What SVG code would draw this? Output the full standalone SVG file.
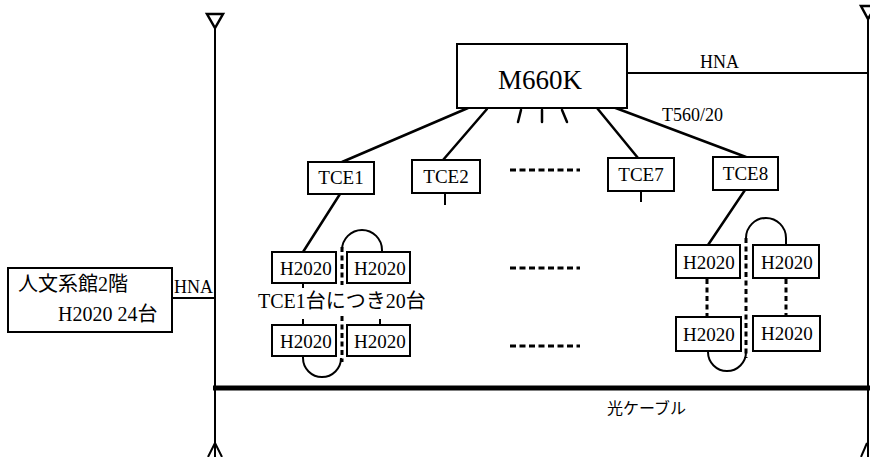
<svg xmlns="http://www.w3.org/2000/svg" width="870" height="457" viewBox="0 0 870 457">
<style>
text{font-family:"Liberation Serif","DejaVu Serif",serif;fill:#000}
text.jp{font-family:"Liberation Serif","Noto Sans CJK JP",serif}
.box{fill:#fff;stroke:#000;stroke-width:2}
.ln{fill:none;stroke:#000;stroke-width:2.5;stroke-linecap:round}
.thin{fill:none;stroke:#000;stroke-width:2}
.dash{fill:none;stroke:#000;stroke-width:3;stroke-dasharray:5 3.5}
.dots{fill:none;stroke:#000;stroke-width:3;stroke-dasharray:6 3.5}
.c{text-anchor:middle}
</style>
<rect width="870" height="457" fill="#fff"/>

<g id="connectors">
  <line class="thin" x1="215" y1="26" x2="215" y2="457"/>
  <polygon points="207,14 223,14 215,28" fill="#fff" stroke="#000" stroke-width="2.5"/>
  <polyline class="thin" points="208,457 215,443 222,457"/>
  <line class="thin" x1="868" y1="16" x2="868" y2="457"/>
  <polygon points="861,6 876,6 868,19" fill="#fff" stroke="#000" stroke-width="2.5"/>
  <polyline class="thin" points="861,457 867,443"/>
  <line x1="213" y1="388" x2="870" y2="388" stroke="#000" stroke-width="5"/>
  <line class="thin" x1="627" y1="73" x2="868" y2="73"/>
  <line class="thin" x1="172" y1="298" x2="215" y2="298"/>
  <line class="ln" x1="468" y1="108" x2="342" y2="162"/>
  <line class="ln" x1="487" y1="109" x2="443" y2="160"/>
  <line class="ln" x1="521" y1="110" x2="518" y2="122"/>
  <line class="ln" x1="542" y1="110" x2="542" y2="122"/>
  <line class="ln" x1="562" y1="110" x2="567" y2="122"/>
  <line class="ln" x1="597" y1="108" x2="638" y2="158"/>
  <line class="ln" x1="613" y1="107" x2="746" y2="157"/>
  <line class="thin" x1="445" y1="193" x2="445" y2="205"/>
  <line class="thin" x1="641" y1="191" x2="641" y2="202"/>
  <line class="dots" x1="510" y1="170" x2="580" y2="170"/>
  <line class="dots" x1="510" y1="268" x2="580" y2="268"/>
  <line class="dots" x1="510" y1="346" x2="580" y2="346"/>
  <line class="ln" x1="340" y1="194" x2="303" y2="252"/>
  <line class="dash" x1="342" y1="247" x2="342" y2="285"/>
  <line class="dash" x1="342" y1="316" x2="342" y2="362"/>
  <path class="thin" d="M342,250 A20,20 0 0 1 382,250 L382,252"/>
  <path class="thin" d="M303,356 L303,358 A19,19 0 0 0 341,358"/>
  <line class="thin" x1="303" y1="283" x2="303" y2="288"/>
  <line class="thin" x1="303" y1="319" x2="303" y2="325"/>
  <line class="thin" x1="380" y1="319" x2="380" y2="325"/>
  <line class="ln" x1="745" y1="190" x2="708" y2="245"/>
  <line class="dash" x1="746" y1="238" x2="746" y2="358"/>
  <path class="thin" d="M746,238 A20,20 0 0 1 786,238 L786,245"/>
  <path class="thin" d="M708,351 L708,352 A19,19 0 0 0 746,352"/>
  <line class="dash" x1="707" y1="279" x2="707" y2="317"/>
  <line class="dash" x1="786" y1="279" x2="786" y2="316"/>
</g>

<text x="700" y="68" font-size="18">HNA</text>
<text x="662" y="121" font-size="18">T560/20</text>
<text x="174" y="293" font-size="18">HNA</text>
<text class="jp" x="607" y="414" font-size="16">光ケーブル</text>
<text class="jp" x="258" y="308" font-size="20">TCE1台につき20台</text>

<g id="m660k">
  <rect class="box" x="457" y="44" width="170" height="64"/>
  <text class="c" x="540" y="89" font-size="27">M660K</text>
</g>

<g id="tce1">
  <rect class="box" x="308" y="162" width="66" height="32"/>
  <text class="c" x="341" y="184" font-size="19">TCE1</text>
</g>
<g id="tce2">
  <rect class="box" x="412" y="160" width="68" height="33"/>
  <text class="c" x="446" y="183" font-size="19">TCE2</text>
</g>
<g id="tce7">
  <rect class="box" x="608" y="158" width="66" height="33"/>
  <text class="c" x="641" y="181" font-size="19">TCE7</text>
</g>
<g id="tce8">
  <rect class="box" x="713" y="157" width="65" height="33"/>
  <text class="c" x="745.5" y="180" font-size="19">TCE8</text>
</g>

<g id="bldg">
  <rect class="box" x="8" y="268" width="164" height="64"/>
  <text class="jp" x="18" y="291" font-size="20">人文系館2階</text>
  <text class="jp" x="58" y="321" font-size="20">H2020 24台</text>
</g>

<g id="h2020-1a">
  <rect class="box" x="272" y="252" width="64" height="31"/>
  <text x="280" y="275" font-size="19">H2020</text>
</g>
<g id="h2020-1b">
  <rect class="box" x="347" y="252" width="63" height="31"/>
  <text x="354" y="275" font-size="19">H2020</text>
</g>
<g id="h2020-1c">
  <rect class="box" x="272" y="325" width="64" height="31"/>
  <text x="280" y="348" font-size="19">H2020</text>
</g>
<g id="h2020-1d">
  <rect class="box" x="347" y="325" width="63" height="31"/>
  <text x="354" y="348" font-size="19">H2020</text>
</g>

<g id="h2020-8a">
  <rect class="box" x="676" y="245" width="64" height="33"/>
  <text x="683" y="269" font-size="19">H2020</text>
</g>
<g id="h2020-8b">
  <rect class="box" x="753" y="245" width="66" height="33"/>
  <text x="761" y="269" font-size="19">H2020</text>
</g>
<g id="h2020-8c">
  <rect class="box" x="676" y="317" width="65" height="34"/>
  <text x="683" y="341" font-size="19">H2020</text>
</g>
<g id="h2020-8d">
  <rect class="box" x="753" y="316" width="67" height="35"/>
  <text x="761" y="340" font-size="19">H2020</text>
</g>
</svg>
